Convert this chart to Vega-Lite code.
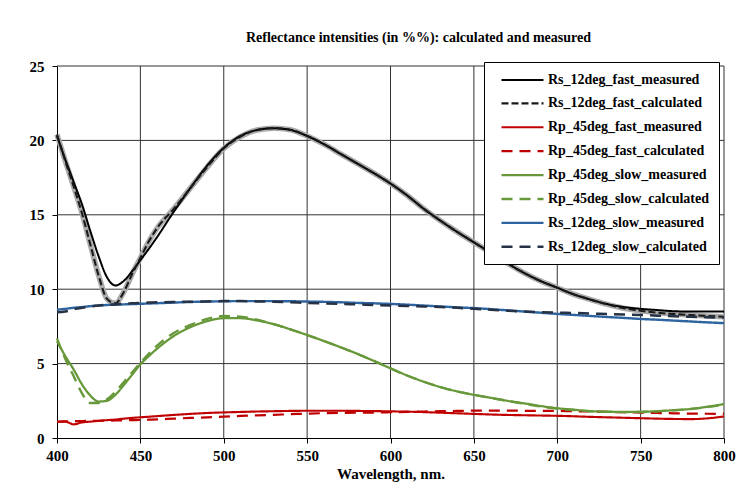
{
  "$schema": "https://vega.github.io/schema/vega-lite/v6.json",
  "width": 667,
  "height": 372,
  "autosize": {"type": "none"},
  "padding": {"left": 57, "top": 66, "right": 16, "bottom": 60},
  "background": "white",
  "title": {
    "text": "Reflectance intensities (in %%): calculated and measured",
    "font": "Times New Roman, Liberation Serif, serif",
    "fontSize": 14,
    "fontWeight": "bold",
    "color": "black",
    "anchor": "middle",
    "dx": 28,
    "offset": 14
  },
  "data": {
    "values": [
      {"x":400,"Rs_12deg_fast_measured":20.3,"Rs_12deg_fast_calculated":20.4,"Rp_45deg_fast_measured":1.08,"Rp_45deg_fast_calculated":1.1,"Rp_45deg_slow_measured":6.5,"Rp_45deg_slow_calculated":6.7,"Rs_12deg_slow_measured":8.63,"Rs_12deg_slow_calculated":8.45},
      {"x":405,"Rs_12deg_fast_measured":18.7,"Rs_12deg_fast_calculated":18.6,"Rp_45deg_fast_measured":1.1,"Rp_45deg_fast_calculated":1.12,"Rp_45deg_slow_measured":5.5,"Rp_45deg_slow_calculated":5.3,"Rs_12deg_slow_measured":8.68,"Rs_12deg_slow_calculated":8.5},
      {"x":410,"Rs_12deg_fast_measured":17.2,"Rs_12deg_fast_calculated":16.9,"Rp_45deg_fast_measured":0.92,"Rp_45deg_fast_calculated":1.13,"Rp_45deg_slow_measured":4.6,"Rp_45deg_slow_calculated":4.15,"Rs_12deg_slow_measured":8.75,"Rs_12deg_slow_calculated":8.65},
      {"x":415,"Rs_12deg_fast_measured":15.7,"Rs_12deg_fast_calculated":15.1,"Rp_45deg_fast_measured":1.05,"Rp_45deg_fast_calculated":1.14,"Rp_45deg_slow_measured":3.6,"Rp_45deg_slow_calculated":3.0,"Rs_12deg_slow_measured":8.8,"Rs_12deg_slow_calculated":8.75},
      {"x":420,"Rs_12deg_fast_measured":13.9,"Rs_12deg_fast_calculated":13.0,"Rp_45deg_fast_measured":1.1,"Rp_45deg_fast_calculated":1.15,"Rp_45deg_slow_measured":2.85,"Rp_45deg_slow_calculated":2.35,"Rs_12deg_slow_measured":8.86,"Rs_12deg_slow_calculated":8.83},
      {"x":425,"Rs_12deg_fast_measured":12.2,"Rs_12deg_fast_calculated":10.9,"Rp_45deg_fast_measured":1.15,"Rp_45deg_fast_calculated":1.16,"Rp_45deg_slow_measured":2.45,"Rp_45deg_slow_calculated":2.35,"Rs_12deg_slow_measured":8.9,"Rs_12deg_slow_calculated":8.9},
      {"x":430,"Rs_12deg_fast_measured":10.8,"Rs_12deg_fast_calculated":9.35,"Rp_45deg_fast_measured":1.2,"Rp_45deg_fast_calculated":1.17,"Rp_45deg_slow_measured":2.5,"Rp_45deg_slow_calculated":2.6,"Rs_12deg_slow_measured":8.94,"Rs_12deg_slow_calculated":8.95},
      {"x":435,"Rs_12deg_fast_measured":10.25,"Rs_12deg_fast_calculated":9.05,"Rp_45deg_fast_measured":1.24,"Rp_45deg_fast_calculated":1.18,"Rp_45deg_slow_measured":2.9,"Rp_45deg_slow_calculated":3.1,"Rs_12deg_slow_measured":8.96,"Rs_12deg_slow_calculated":8.98},
      {"x":440,"Rs_12deg_fast_measured":10.55,"Rs_12deg_fast_calculated":9.8,"Rp_45deg_fast_measured":1.3,"Rp_45deg_fast_calculated":1.19,"Rp_45deg_slow_measured":3.55,"Rp_45deg_slow_calculated":3.75,"Rs_12deg_slow_measured":8.98,"Rs_12deg_slow_calculated":9.02},
      {"x":445,"Rs_12deg_fast_measured":11.2,"Rs_12deg_fast_calculated":11.0,"Rp_45deg_fast_measured":1.35,"Rp_45deg_fast_calculated":1.2,"Rp_45deg_slow_measured":4.25,"Rp_45deg_slow_calculated":4.4,"Rs_12deg_slow_measured":9.0,"Rs_12deg_slow_calculated":9.05},
      {"x":450,"Rs_12deg_fast_measured":11.95,"Rs_12deg_fast_calculated":12.1,"Rp_45deg_fast_measured":1.39,"Rp_45deg_fast_calculated":1.21,"Rp_45deg_slow_measured":4.95,"Rp_45deg_slow_calculated":5.05,"Rs_12deg_slow_measured":9.02,"Rs_12deg_slow_calculated":9.08},
      {"x":455,"Rs_12deg_fast_measured":12.7,"Rs_12deg_fast_calculated":13.2,"Rp_45deg_fast_measured":1.43,"Rp_45deg_fast_calculated":1.23,"Rp_45deg_slow_measured":5.5,"Rp_45deg_slow_calculated":5.65,"Rs_12deg_slow_measured":9.04,"Rs_12deg_slow_calculated":9.1},
      {"x":460,"Rs_12deg_fast_measured":13.5,"Rs_12deg_fast_calculated":14.1,"Rp_45deg_fast_measured":1.47,"Rp_45deg_fast_calculated":1.25,"Rp_45deg_slow_measured":6.0,"Rp_45deg_slow_calculated":6.2,"Rs_12deg_slow_measured":9.06,"Rs_12deg_slow_calculated":9.12},
      {"x":470,"Rs_12deg_fast_measured":15.2,"Rs_12deg_fast_calculated":15.4,"Rp_45deg_fast_measured":1.55,"Rp_45deg_fast_calculated":1.3,"Rp_45deg_slow_measured":6.85,"Rp_45deg_slow_calculated":7.05,"Rs_12deg_slow_measured":9.1,"Rs_12deg_slow_calculated":9.14},
      {"x":480,"Rs_12deg_fast_measured":16.8,"Rs_12deg_fast_calculated":16.8,"Rp_45deg_fast_measured":1.62,"Rp_45deg_fast_calculated":1.35,"Rp_45deg_slow_measured":7.45,"Rp_45deg_slow_calculated":7.6,"Rs_12deg_slow_measured":9.14,"Rs_12deg_slow_calculated":9.16},
      {"x":490,"Rs_12deg_fast_measured":18.3,"Rs_12deg_fast_calculated":18.2,"Rp_45deg_fast_measured":1.68,"Rp_45deg_fast_calculated":1.39,"Rp_45deg_slow_measured":7.85,"Rp_45deg_slow_calculated":8.0,"Rs_12deg_slow_measured":9.17,"Rs_12deg_slow_calculated":9.18},
      {"x":500,"Rs_12deg_fast_measured":19.5,"Rs_12deg_fast_calculated":19.45,"Rp_45deg_fast_measured":1.72,"Rp_45deg_fast_calculated":1.43,"Rp_45deg_slow_measured":8.05,"Rp_45deg_slow_calculated":8.2,"Rs_12deg_slow_measured":9.19,"Rs_12deg_slow_calculated":9.2},
      {"x":510,"Rs_12deg_fast_measured":20.3,"Rs_12deg_fast_calculated":20.25,"Rp_45deg_fast_measured":1.75,"Rp_45deg_fast_calculated":1.48,"Rp_45deg_slow_measured":8.05,"Rp_45deg_slow_calculated":8.15,"Rs_12deg_slow_measured":9.2,"Rs_12deg_slow_calculated":9.2},
      {"x":520,"Rs_12deg_fast_measured":20.7,"Rs_12deg_fast_calculated":20.7,"Rp_45deg_fast_measured":1.78,"Rp_45deg_fast_calculated":1.52,"Rp_45deg_slow_measured":7.9,"Rp_45deg_slow_calculated":7.95,"Rs_12deg_slow_measured":9.2,"Rs_12deg_slow_calculated":9.18},
      {"x":530,"Rs_12deg_fast_measured":20.82,"Rs_12deg_fast_calculated":20.82,"Rp_45deg_fast_measured":1.8,"Rp_45deg_fast_calculated":1.56,"Rp_45deg_slow_measured":7.65,"Rp_45deg_slow_calculated":7.65,"Rs_12deg_slow_measured":9.2,"Rs_12deg_slow_calculated":9.15},
      {"x":540,"Rs_12deg_fast_measured":20.7,"Rs_12deg_fast_calculated":20.72,"Rp_45deg_fast_measured":1.82,"Rp_45deg_fast_calculated":1.6,"Rp_45deg_slow_measured":7.3,"Rp_45deg_slow_calculated":7.3,"Rs_12deg_slow_measured":9.19,"Rs_12deg_slow_calculated":9.12},
      {"x":550,"Rs_12deg_fast_measured":20.3,"Rs_12deg_fast_calculated":20.3,"Rp_45deg_fast_measured":1.83,"Rp_45deg_fast_calculated":1.64,"Rp_45deg_slow_measured":6.92,"Rp_45deg_slow_calculated":6.92,"Rs_12deg_slow_measured":9.17,"Rs_12deg_slow_calculated":9.08},
      {"x":560,"Rs_12deg_fast_measured":19.75,"Rs_12deg_fast_calculated":19.75,"Rp_45deg_fast_measured":1.83,"Rp_45deg_fast_calculated":1.67,"Rp_45deg_slow_measured":6.52,"Rp_45deg_slow_calculated":6.52,"Rs_12deg_slow_measured":9.15,"Rs_12deg_slow_calculated":9.05},
      {"x":570,"Rs_12deg_fast_measured":19.1,"Rs_12deg_fast_calculated":19.1,"Rp_45deg_fast_measured":1.83,"Rp_45deg_fast_calculated":1.69,"Rp_45deg_slow_measured":6.1,"Rp_45deg_slow_calculated":6.1,"Rs_12deg_slow_measured":9.12,"Rs_12deg_slow_calculated":9.02},
      {"x":580,"Rs_12deg_fast_measured":18.45,"Rs_12deg_fast_calculated":18.45,"Rp_45deg_fast_measured":1.82,"Rp_45deg_fast_calculated":1.7,"Rp_45deg_slow_measured":5.66,"Rp_45deg_slow_calculated":5.66,"Rs_12deg_slow_measured":9.08,"Rs_12deg_slow_calculated":8.98},
      {"x":590,"Rs_12deg_fast_measured":17.8,"Rs_12deg_fast_calculated":17.8,"Rp_45deg_fast_measured":1.81,"Rp_45deg_fast_calculated":1.71,"Rp_45deg_slow_measured":5.18,"Rp_45deg_slow_calculated":5.18,"Rs_12deg_slow_measured":9.05,"Rs_12deg_slow_calculated":8.94},
      {"x":600,"Rs_12deg_fast_measured":17.1,"Rs_12deg_fast_calculated":17.1,"Rp_45deg_fast_measured":1.79,"Rp_45deg_fast_calculated":1.73,"Rp_45deg_slow_measured":4.68,"Rp_45deg_slow_calculated":4.68,"Rs_12deg_slow_measured":9.01,"Rs_12deg_slow_calculated":8.9},
      {"x":610,"Rs_12deg_fast_measured":16.3,"Rs_12deg_fast_calculated":16.3,"Rp_45deg_fast_measured":1.77,"Rp_45deg_fast_calculated":1.76,"Rp_45deg_slow_measured":4.2,"Rp_45deg_slow_calculated":4.2,"Rs_12deg_slow_measured":8.96,"Rs_12deg_slow_calculated":8.87},
      {"x":620,"Rs_12deg_fast_measured":15.4,"Rs_12deg_fast_calculated":15.4,"Rp_45deg_fast_measured":1.74,"Rp_45deg_fast_calculated":1.78,"Rp_45deg_slow_measured":3.78,"Rp_45deg_slow_calculated":3.78,"Rs_12deg_slow_measured":8.9,"Rs_12deg_slow_calculated":8.84},
      {"x":630,"Rs_12deg_fast_measured":14.6,"Rs_12deg_fast_calculated":14.6,"Rp_45deg_fast_measured":1.7,"Rp_45deg_fast_calculated":1.8,"Rp_45deg_slow_measured":3.42,"Rp_45deg_slow_calculated":3.42,"Rs_12deg_slow_measured":8.84,"Rs_12deg_slow_calculated":8.8},
      {"x":640,"Rs_12deg_fast_measured":13.85,"Rs_12deg_fast_calculated":13.85,"Rp_45deg_fast_measured":1.66,"Rp_45deg_fast_calculated":1.82,"Rp_45deg_slow_measured":3.13,"Rp_45deg_slow_calculated":3.13,"Rs_12deg_slow_measured":8.78,"Rs_12deg_slow_calculated":8.75},
      {"x":650,"Rs_12deg_fast_measured":13.15,"Rs_12deg_fast_calculated":13.15,"Rp_45deg_fast_measured":1.62,"Rp_45deg_fast_calculated":1.84,"Rp_45deg_slow_measured":2.9,"Rp_45deg_slow_calculated":2.9,"Rs_12deg_slow_measured":8.73,"Rs_12deg_slow_calculated":8.68},
      {"x":660,"Rs_12deg_fast_measured":12.45,"Rs_12deg_fast_calculated":12.45,"Rp_45deg_fast_measured":1.58,"Rp_45deg_fast_calculated":1.84,"Rp_45deg_slow_measured":2.7,"Rp_45deg_slow_calculated":2.7,"Rs_12deg_slow_measured":8.66,"Rs_12deg_slow_calculated":8.62},
      {"x":670,"Rs_12deg_fast_measured":11.75,"Rs_12deg_fast_calculated":11.75,"Rp_45deg_fast_measured":1.55,"Rp_45deg_fast_calculated":1.84,"Rp_45deg_slow_measured":2.5,"Rp_45deg_slow_calculated":2.5,"Rs_12deg_slow_measured":8.58,"Rs_12deg_slow_calculated":8.56},
      {"x":680,"Rs_12deg_fast_measured":11.1,"Rs_12deg_fast_calculated":11.1,"Rp_45deg_fast_measured":1.53,"Rp_45deg_fast_calculated":1.83,"Rp_45deg_slow_measured":2.33,"Rp_45deg_slow_calculated":2.3,"Rs_12deg_slow_measured":8.5,"Rs_12deg_slow_calculated":8.5},
      {"x":690,"Rs_12deg_fast_measured":10.55,"Rs_12deg_fast_calculated":10.55,"Rp_45deg_fast_measured":1.51,"Rp_45deg_fast_calculated":1.83,"Rp_45deg_slow_measured":2.15,"Rp_45deg_slow_calculated":2.12,"Rs_12deg_slow_measured":8.42,"Rs_12deg_slow_calculated":8.46},
      {"x":700,"Rs_12deg_fast_measured":10.1,"Rs_12deg_fast_calculated":10.1,"Rp_45deg_fast_measured":1.49,"Rp_45deg_fast_calculated":1.82,"Rp_45deg_slow_measured":2.0,"Rp_45deg_slow_calculated":1.98,"Rs_12deg_slow_measured":8.34,"Rs_12deg_slow_calculated":8.43},
      {"x":710,"Rs_12deg_fast_measured":9.65,"Rs_12deg_fast_calculated":9.65,"Rp_45deg_fast_measured":1.46,"Rp_45deg_fast_calculated":1.8,"Rp_45deg_slow_measured":1.9,"Rp_45deg_slow_calculated":1.88,"Rs_12deg_slow_measured":8.27,"Rs_12deg_slow_calculated":8.4},
      {"x":720,"Rs_12deg_fast_measured":9.3,"Rs_12deg_fast_calculated":9.3,"Rp_45deg_fast_measured":1.42,"Rp_45deg_fast_calculated":1.78,"Rp_45deg_slow_measured":1.8,"Rp_45deg_slow_calculated":1.8,"Rs_12deg_slow_measured":8.2,"Rs_12deg_slow_calculated":8.37},
      {"x":730,"Rs_12deg_fast_measured":9.0,"Rs_12deg_fast_calculated":8.98,"Rp_45deg_fast_measured":1.39,"Rp_45deg_fast_calculated":1.76,"Rp_45deg_slow_measured":1.77,"Rp_45deg_slow_calculated":1.76,"Rs_12deg_slow_measured":8.13,"Rs_12deg_slow_calculated":8.33},
      {"x":740,"Rs_12deg_fast_measured":8.8,"Rs_12deg_fast_calculated":8.72,"Rp_45deg_fast_measured":1.36,"Rp_45deg_fast_calculated":1.73,"Rp_45deg_slow_measured":1.75,"Rp_45deg_slow_calculated":1.74,"Rs_12deg_slow_measured":8.07,"Rs_12deg_slow_calculated":8.3},
      {"x":750,"Rs_12deg_fast_measured":8.68,"Rs_12deg_fast_calculated":8.55,"Rp_45deg_fast_measured":1.33,"Rp_45deg_fast_calculated":1.71,"Rp_45deg_slow_measured":1.76,"Rp_45deg_slow_calculated":1.75,"Rs_12deg_slow_measured":8.0,"Rs_12deg_slow_calculated":8.27},
      {"x":760,"Rs_12deg_fast_measured":8.6,"Rs_12deg_fast_calculated":8.42,"Rp_45deg_fast_measured":1.3,"Rp_45deg_fast_calculated":1.68,"Rp_45deg_slow_measured":1.8,"Rp_45deg_slow_calculated":1.8,"Rs_12deg_slow_measured":7.95,"Rs_12deg_slow_calculated":8.22},
      {"x":770,"Rs_12deg_fast_measured":8.52,"Rs_12deg_fast_calculated":8.33,"Rp_45deg_fast_measured":1.28,"Rp_45deg_fast_calculated":1.66,"Rp_45deg_slow_measured":1.87,"Rp_45deg_slow_calculated":1.86,"Rs_12deg_slow_measured":7.89,"Rs_12deg_slow_calculated":8.18},
      {"x":780,"Rs_12deg_fast_measured":8.5,"Rs_12deg_fast_calculated":8.26,"Rp_45deg_fast_measured":1.27,"Rp_45deg_fast_calculated":1.64,"Rp_45deg_slow_measured":1.95,"Rp_45deg_slow_calculated":1.95,"Rs_12deg_slow_measured":7.83,"Rs_12deg_slow_calculated":8.15},
      {"x":790,"Rs_12deg_fast_measured":8.5,"Rs_12deg_fast_calculated":8.2,"Rp_45deg_fast_measured":1.32,"Rp_45deg_fast_calculated":1.63,"Rp_45deg_slow_measured":2.1,"Rp_45deg_slow_calculated":2.08,"Rs_12deg_slow_measured":7.77,"Rs_12deg_slow_calculated":8.12},
      {"x":800,"Rs_12deg_fast_measured":8.5,"Rs_12deg_fast_calculated":8.15,"Rp_45deg_fast_measured":1.45,"Rp_45deg_fast_calculated":1.62,"Rp_45deg_slow_measured":2.28,"Rp_45deg_slow_calculated":2.25,"Rs_12deg_slow_measured":7.72,"Rs_12deg_slow_calculated":8.09}
    ]
  },
  "layer": [
    {
      "data": {"values": [{"g": 450}, {"g": 500}, {"g": 550}, {"g": 600}, {"g": 650}, {"g": 700}, {"g": 750}, {"g": 800}]},
      "mark": {"type": "rule", "color": "#333333", "strokeWidth": 1},
      "encoding": {"x": {"field": "g", "type": "quantitative"}}
    },
    {
      "data": {"values": [{"h": 5}, {"h": 10}, {"h": 15}, {"h": 20}, {"h": 25}]},
      "mark": {"type": "rule", "color": "#333333", "strokeWidth": 1},
      "encoding": {"y": {"field": "h", "type": "quantitative"}}
    },
    {
      "transform": [
        {"fold": ["Rs_12deg_fast_calculated"], "as": ["series","R"]}
      ],
      "mark": {"type": "line", "color": "#ababab", "strokeWidth": 5.5, "interpolate": "monotone"},
      "encoding": {
        "x": {"field": "x", "type": "quantitative"},
        "y": {"field": "R", "type": "quantitative"}
      }
    },
    {
      "transform": [
        {"fold": ["Rs_12deg_fast_measured","Rs_12deg_fast_calculated","Rp_45deg_fast_measured","Rp_45deg_fast_calculated","Rp_45deg_slow_measured","Rp_45deg_slow_calculated","Rs_12deg_slow_measured","Rs_12deg_slow_calculated"], "as": ["series","R"]}
      ],
      "mark": {"type": "line", "interpolate": "monotone"},
      "encoding": {
        "x": {"field": "x", "type": "quantitative"},
        "y": {"field": "R", "type": "quantitative"},
        "color": {
          "field": "series", "type": "nominal", "title": null,
          "scale": {
            "domain": ["Rs_12deg_fast_measured","Rs_12deg_fast_calculated","Rp_45deg_fast_measured","Rp_45deg_fast_calculated","Rp_45deg_slow_measured","Rp_45deg_slow_calculated","Rs_12deg_slow_measured","Rs_12deg_slow_calculated"],
            "range": ["#000000","#1a1a1a","#C00000","#C00000","#67983A","#67983A","#2E64A0","#263245"]
          }
        },
        "strokeDash": {
          "field": "series", "type": "nominal", "title": null,
          "scale": {
            "domain": ["Rs_12deg_fast_measured","Rs_12deg_fast_calculated","Rp_45deg_fast_measured","Rp_45deg_fast_calculated","Rp_45deg_slow_measured","Rp_45deg_slow_calculated","Rs_12deg_slow_measured","Rs_12deg_slow_calculated"],
            "range": [[1,0],[7,3],[1,0],[11,7],[1,0],[11,7],[1,0],[11,7]]
          }
        },
        "strokeWidth": {
          "field": "series", "type": "nominal", "title": null,
          "scale": {
            "domain": ["Rs_12deg_fast_measured","Rs_12deg_fast_calculated","Rp_45deg_fast_measured","Rp_45deg_fast_calculated","Rp_45deg_slow_measured","Rp_45deg_slow_calculated","Rs_12deg_slow_measured","Rs_12deg_slow_calculated"],
            "range": [2,2.5,2,3,2,3,2,3]
          }
        }
      }
    }
  ],
  "resolve": {"scale": {"x": "shared", "y": "shared"}},
  "encoding": {
    "x": {
      "type": "quantitative",
      "scale": {"domain": [400, 800], "nice": false, "zero": false},
      "axis": {
        "title": "Wavelength, nm.", "values": [400,450,500,550,600,650,700,750,800],
        "labelPadding": 5, "titlePadding": 3, "labelFlush": false, "grid": false,
        "labelFont": "serif", "labelFontSize": 15, "labelFontWeight": "bold", "labelColor": "black",
        "titleFont": "serif", "titleFontSize": 15, "titleFontWeight": "bold", "titleColor": "black",
        "domainColor": "black", "tickColor": "black", "tickSize": 5
      }
    },
    "y": {
      "type": "quantitative",
      "scale": {"domain": [0, 25], "nice": false},
      "axis": {
        "title": null, "values": [0,5,10,15,20,25], "labelPadding": 8, "grid": false,
        "labelFont": "serif", "labelFontSize": 15, "labelFontWeight": "bold", "labelColor": "black",
        "domainColor": "black", "tickColor": "black", "tickSize": 5
      }
    }
  },
  "config": {
    "view": {"stroke": null},
    "font": "Times New Roman, Liberation Serif, serif",
    "legend": {
      "orient": "none",
      "legendX": 427,
      "legendY": -4,
      "fillColor": "white",
      "strokeColor": "black",
      "padding": 10,
      "symbolType": "M-3,0H3",
      "symbolSize": 196,
      "symbolOffset": 20,
      "labelOffset": 17,
      "rowPadding": 7.9,
      "labelFont": "Times New Roman, Liberation Serif, serif",
      "labelFontSize": 14,
      "labelFontWeight": "bold",
      "labelColor": "black",
      "labelLimit": 300
    }
  }
}
